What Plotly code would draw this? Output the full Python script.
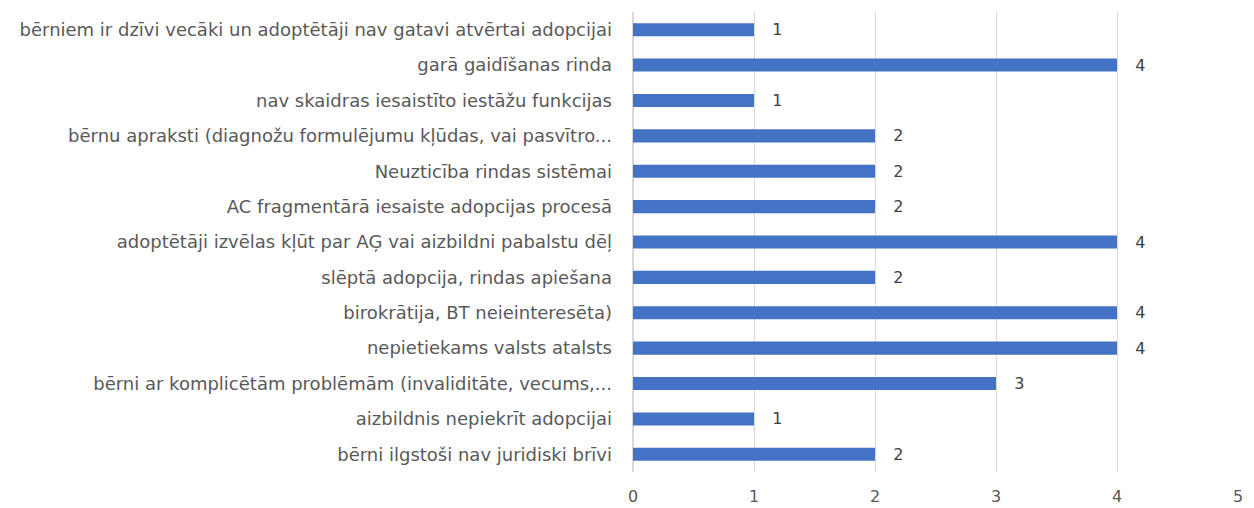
import plotly.graph_objects as go

# categories top -> bottom as in the source chart
categories = [
    "bērniem ir dzīvi vecāki un adoptētāji nav gatavi atvērtai adopcijai",
    "garā gaidīšanas rinda",
    "nav skaidras iesaistīto iestāžu funkcijas",
    "bērnu apraksti (diagnožu formulējumu kļūdas, vai pasvītro...",
    "Neuzticība rindas sistēmai",
    "AC fragmentārā iesaiste adopcijas procesā",
    "adoptētāji izvēlas kļūt par AĢ vai aizbildni pabalstu dēļ",
    "slēptā adopcija, rindas apiešana",
    "birokrātija, BT neieinteresēta)",
    "nepietiekams valsts atalsts",
    "bērni ar komplicētām problēmām (invaliditāte, vecums,...",
    "aizbildnis nepiekrīt adopcijai",
    "bērni ilgstoši nav juridiski brīvi",
]
counts = [1, 4, 1, 2, 2, 2, 4, 2, 4, 4, 3, 1, 2]
x_ticks = [0, 1, 2, 3, 4, 5]

FONT = "DejaVu Sans, sans-serif"

fig = go.Figure(
    go.Bar(
        x=counts,
        y=categories,
        orientation="h",
        marker=dict(color="#4472C4", line=dict(width=0)),
        texttemplate="\u00a0\u00a0\u00a0%{x}",
        textposition="outside",
        constraintext="none",
        textfont=dict(family=FONT, size=16, color="#404040"),
        cliponaxis=False,
    )
)

# page body has an 8px margin, so the figure is offset by 8px right and down
fig.update_layout(
    width=1246,
    height=500,
    paper_bgcolor="white",
    plot_bgcolor="white",
    margin=dict(l=625, r=16, t=4, b=36),
    bargap=0.63,
    showlegend=False,
    font=dict(family=FONT, color="#595959"),
)

fig.update_xaxes(
    range=[0, 5],
    tickvals=x_ticks,
    automargin=False,
    showgrid=True,
    gridcolor="#D9D9D9",
    gridwidth=1,
    zeroline=True,
    zerolinecolor="#D9D9D9",
    showline=False,
    tickfont=dict(family=FONT, size=16, color="#595959"),
    ticklabelstandoff=13,
)
fig.update_yaxes(
    autorange="reversed",
    automargin=False,
    showgrid=False,
    showline=False,
    tickfont=dict(family=FONT, size=18, color="#595959"),
    ticklabelstandoff=20,
)

fig.write_html("out.html")
